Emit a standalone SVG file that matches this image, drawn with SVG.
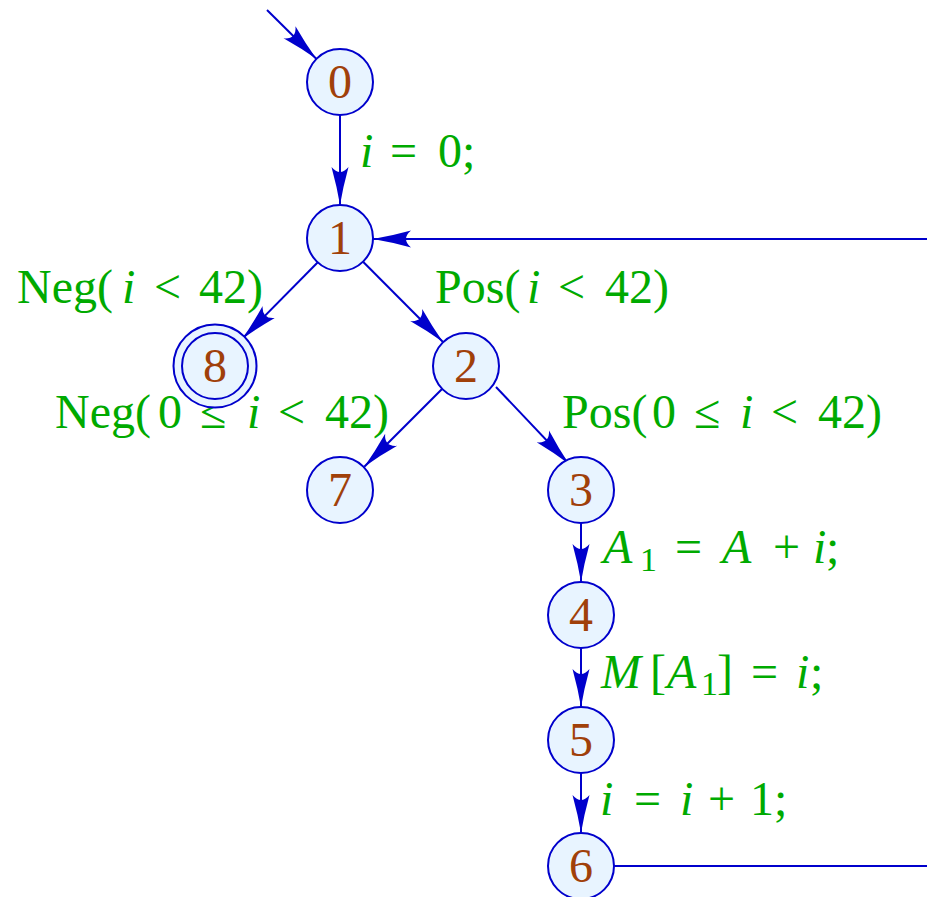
<svg xmlns="http://www.w3.org/2000/svg" width="927" height="897" viewBox="0 0 927 897">
<style>
.node circle{fill:#E8F4FF;stroke:#0000CC;stroke-width:2}
.node text{font-family:"Liberation Serif",serif;font-size:48px;fill:#A0400A;text-anchor:middle}
.edge{stroke:#0000CC;stroke-width:2;fill:none}
.arr{marker-end:url(#ah)}
.lbl{font-family:"Liberation Serif",serif;font-size:48px;fill:#00AA00}
.it{font-style:italic}
.sub{font-size:34px}
</style>
<defs>
<marker id="ah" viewBox="-40 -10 42 20" markerWidth="42" markerHeight="20" refX="0" refY="0" orient="auto" markerUnits="userSpaceOnUse">
<path d="M0,0 Q-18,-3 -38,-8.5 Q-28,0 -38,8.5 Q-18,3 0,0 Z" fill="#0000CC"/>
</marker>
</defs>
<g id="connectors">
<line class="edge arr" x1="267" y1="10" x2="316.5" y2="59"/>
<line class="edge arr" x1="340" y1="115" x2="340" y2="205"/>
<polyline class="edge arr" points="927,239 373,239"/>
<line class="edge arr" x1="318.3" y1="261.7" x2="242" y2="339"/>
<line class="edge arr" x1="363.3" y1="262" x2="443" y2="342"/>
<line class="edge arr" x1="444.3" y1="386.7" x2="364.3" y2="466.7"/>
<line class="edge arr" x1="496" y1="387" x2="569" y2="464"/>
<line class="edge arr" x1="581" y1="523" x2="581" y2="582"/>
<line class="edge arr" x1="581" y1="648" x2="581" y2="707"/>
<line class="edge arr" x1="581" y1="773" x2="581" y2="833"/>
<line class="edge" x1="614" y1="866" x2="927" y2="866"/>
</g>
<g id="labels">
<text class="lbl" y="167"><tspan class="it" x="360">i</tspan><tspan x="390">=</tspan><tspan x="438">0;</tspan></text>
<text class="lbl" y="303"><tspan x="17">Neg(</tspan><tspan class="it" x="122">i</tspan><tspan x="154">&lt;</tspan><tspan x="199">42)</tspan></text>
<text class="lbl" y="303"><tspan x="435">Pos(</tspan><tspan class="it" x="527">i</tspan><tspan x="558">&lt;</tspan><tspan x="605">42)</tspan></text>
<text class="lbl" y="428"><tspan x="55">Neg(</tspan><tspan x="158">0</tspan><tspan x="200">≤</tspan><tspan class="it" x="247">i</tspan><tspan x="278">&lt;</tspan><tspan x="325">42)</tspan></text>
<text class="lbl" y="428"><tspan x="562">Pos(</tspan><tspan x="652">0</tspan><tspan x="694">≤</tspan><tspan class="it" x="740">i</tspan><tspan x="771">&lt;</tspan><tspan x="818">42)</tspan></text>
<text class="lbl" y="563"><tspan class="it" x="603">A</tspan><tspan class="sub" x="640" y="571">1</tspan><tspan x="675" y="563">=</tspan><tspan class="it" x="722">A</tspan><tspan x="773">+</tspan><tspan class="it" x="813">i</tspan><tspan x="826">;</tspan></text>
<text class="lbl" y="688"><tspan class="it" x="601">M</tspan><tspan x="650">[</tspan><tspan class="it" x="667">A</tspan><tspan class="sub" x="701" y="695">1</tspan><tspan x="717" y="688">]</tspan><tspan x="751">=</tspan><tspan class="it" x="796">i</tspan><tspan x="810">;</tspan></text>
<text class="lbl" y="815"><tspan class="it" x="600">i</tspan><tspan x="634">=</tspan><tspan class="it" x="680">i</tspan><tspan x="708">+</tspan><tspan x="750">1;</tspan></text>
</g>
<g id="n0" class="node"><circle cx="340" cy="82" r="33"/><text x="340" y="98">0</text></g>
<g id="n1" class="node"><circle cx="340" cy="238" r="33"/><text x="340" y="254">1</text></g>
<g id="n8" class="node"><circle cx="215" cy="366" r="41.5"/><circle cx="215" cy="366" r="33"/><text x="215" y="382">8</text></g>
<g id="n2" class="node"><circle cx="466" cy="366" r="33"/><text x="466" y="382">2</text></g>
<g id="n7" class="node"><circle cx="340" cy="490" r="33"/><text x="340" y="506">7</text></g>
<g id="n3" class="node"><circle cx="581" cy="490" r="33"/><text x="581" y="506">3</text></g>
<g id="n4" class="node"><circle cx="581" cy="615" r="33"/><text x="581" y="631">4</text></g>
<g id="n5" class="node"><circle cx="581" cy="740" r="33"/><text x="581" y="756">5</text></g>
<g id="n6" class="node"><circle cx="581" cy="866" r="33"/><text x="581" y="882">6</text></g>
</svg>
